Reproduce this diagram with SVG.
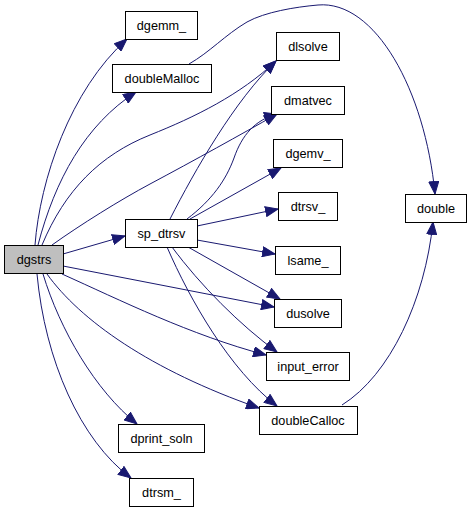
<svg xmlns="http://www.w3.org/2000/svg" width="472" height="512" viewBox="0 0 472 512">
<style>
.n rect{fill:#ffffff;stroke:#000000;stroke-width:1}
.n.root rect{fill:#bfbfbf}
.n text{font-family:"Liberation Sans",Arial,sans-serif;font-size:12.7px;fill:#000;text-anchor:middle}
.e path{fill:none;stroke:#191970;stroke-width:1;marker-end:url(#ah)}
</style>
<defs>
<marker id="ah" markerUnits="userSpaceOnUse" markerWidth="14" markerHeight="11" refX="13" refY="5.5" orient="auto">
<path d="M0.5,0.5 L13,5.5 L0.5,10.5 z" fill="#191970" stroke="#191970" stroke-width="1"/>
</marker>
</defs>
<rect width="472" height="512" fill="#ffffff"/>
<g id="edges" class="e">
<path d="M35,245 C40,180 70,90 127,39"/>
<path d="M38,245 C55,180 85,125 136,92"/>
<path d="M42,245 C65,190 100,155 150,135 C195,117 240,95 276,61"/>
<path d="M170,219 C195,170 235,100 276,61"/>
<path d="M52,245 C80,225 120,200 150,184 C195,160 240,135 277,114"/>
<path d="M187,219 C212,200 226,180 234,158 C242,135 255,120 277,114"/>
<path d="M190,219 L281,168"/>
<path d="M197,226 L278,209"/>
<path d="M197,240 L275,254"/>
<path d="M188,247 L280,299"/>
<path d="M63,266 L274,307"/>
<path d="M62,274 C120,300 190,335 266,355"/>
<path d="M172,247 C200,285 240,325 277,352"/>
<path d="M167,247 C190,300 230,370 277,406"/>
<path d="M47,274 C80,320 150,370 259,408"/>
<path d="M43,274 C60,330 95,390 137,424"/>
<path d="M37,274 C45,360 80,440 131,478"/>
<path d="M63,254 L125,236"/>
<path d="M189,64 C210,52 225,35 247,22 C265,12 295,7 318,5 C375,0 425,90 435,194"/>
<path d="M342,405 C390,375 425,300 433,222"/>
</g>
<g id="dgstrs" class="n root"><rect x="4.5" y="245.5" width="59" height="28"/><text x="34" y="264">dgstrs</text></g>
<g id="dgemm_" class="n"><rect x="125.5" y="11.5" width="72" height="28"/><text x="161.5" y="30">dgemm_</text></g>
<g id="doubleMalloc" class="n"><rect x="112.5" y="64.5" width="99" height="28"/><text x="162" y="83">doubleMalloc</text></g>
<g id="sp_dtrsv" class="n"><rect x="125.5" y="219.5" width="72" height="28"/><text x="161.5" y="238">sp_dtrsv</text></g>
<g id="dprint_soln" class="n"><rect x="118.5" y="424.5" width="86" height="28"/><text x="161.5" y="443">dprint_soln</text></g>
<g id="dtrsm_" class="n"><rect x="129.5" y="478.5" width="64" height="28"/><text x="161.5" y="497">dtrsm_</text></g>
<g id="dlsolve" class="n"><rect x="276.5" y="32.5" width="63" height="28"/><text x="308" y="51">dlsolve</text></g>
<g id="dmatvec" class="n"><rect x="271.5" y="86.5" width="73" height="28"/><text x="308" y="105">dmatvec</text></g>
<g id="dgemv_" class="n"><rect x="273.5" y="139.5" width="69" height="28"/><text x="308" y="158">dgemv_</text></g>
<g id="dtrsv_" class="n"><rect x="278.5" y="192.5" width="59" height="28"/><text x="308" y="211">dtrsv_</text></g>
<g id="lsame_" class="n"><rect x="275.5" y="246.5" width="65" height="28"/><text x="308" y="265">lsame_</text></g>
<g id="dusolve" class="n"><rect x="274.5" y="299.5" width="67" height="28"/><text x="308" y="318">dusolve</text></g>
<g id="input_error" class="n"><rect x="266.5" y="352.5" width="83" height="28"/><text x="308" y="371">input_error</text></g>
<g id="doubleCalloc" class="n"><rect x="259.5" y="406.5" width="98" height="28"/><text x="308" y="425">doubleCalloc</text></g>
<g id="double" class="n"><rect x="405.5" y="194.5" width="61" height="28"/><text x="436" y="213">double</text></g>
</svg>
